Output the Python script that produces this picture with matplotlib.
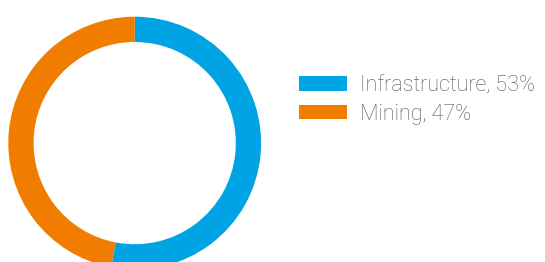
import matplotlib.pyplot as plt
from matplotlib.patches import Patch

labels = ['Infrastructure', 'Mining']
shares = [53, 47]
colors = ['#00a3e4', '#f07c00']

plt.rcParams['font.family'] = ['Roboto', 'DejaVu Sans']

W, H = 545, 262
fig = plt.figure(figsize=(W / 100, H / 100), dpi=100)

# donut: centre ~ (135, 143) px from top-left, outer radius ~126 px
cx, cy, r = 134.7, 143.1, 126.4
ax = fig.add_axes([(cx - r) / W, (H - cy - r) / H, 2 * r / W, 2 * r / H])
ax.pie(shares, colors=colors, startangle=90, counterclock=False,
       radius=1, wedgeprops=dict(width=0.2, linewidth=0))
ax.set_xlim(-1, 1)
ax.set_ylim(-1, 1)
ax.set_aspect('equal')
ax.axis('off')

fs = 15.5
px = fs * 100 / 72
handles = [Patch(facecolor=c, edgecolor='none') for c in colors]
texts = [f'{l}, {s}%' for l, s in zip(labels, shares)]
leg = fig.legend(handles, texts, loc='upper left', bbox_to_anchor=(299 / W, 1 - 75 / H),
                 frameon=False, handlelength=48 / px, handleheight=14 / px,
                 handletextpad=13 / px, labelspacing=0.35, borderaxespad=0, borderpad=0,
                 prop={'weight': 'light', 'size': fs})
for t in leg.get_texts():
    t.set_color('#555555')

fig.savefig('out.png', dpi=100)
